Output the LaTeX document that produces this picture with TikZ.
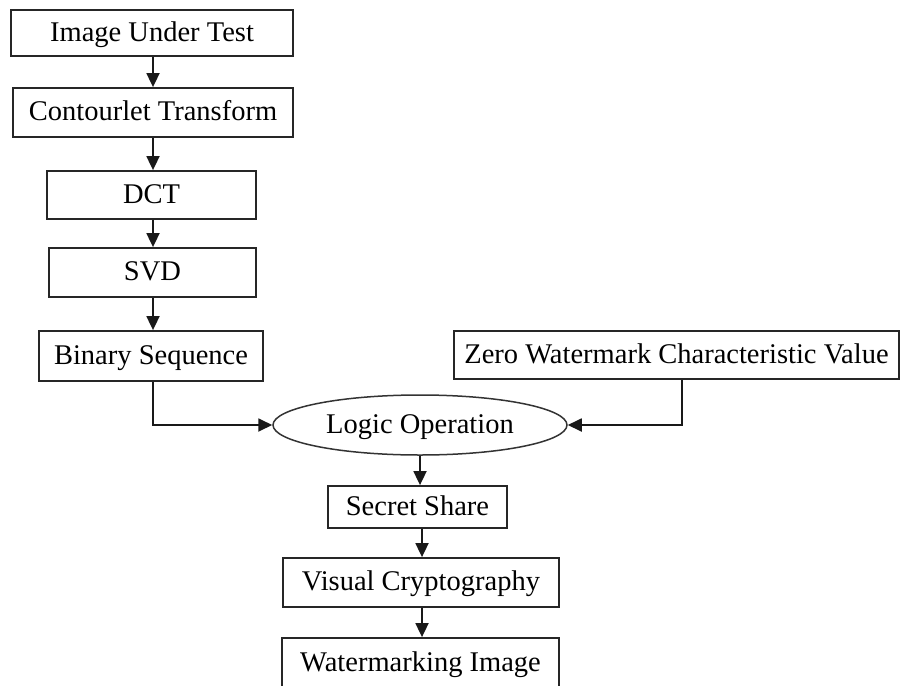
\documentclass[tikz,border=0pt]{standalone}
\usepackage{fontspec}
\setmainfont{Liberation Serif}
\usetikzlibrary{arrows.meta,shapes.geometric}
\tikzset{
  lbl/.style={font=\fontsize{28.5pt}{31pt}\selectfont, text height=16.5pt, text depth=-0.5pt, inner sep=0pt},
  stepbox/.style={lbl, draw=black!85, line width=1.8pt, rectangle, fill=white},
  oval/.style={lbl, draw=black!80, line width=1.5pt, ellipse, fill=white},
  arr/.style={draw=black!90, line width=1.8pt, -{Triangle[length=14pt,width=13pt]}}
}
\begin{document}
\begin{tikzpicture}[x=1pt,y=-1pt]
\useasboundingbox (0,0) rectangle (901,685);
\begin{scope}
\clip (0,0) rectangle (901,685);
\node[stepbox, minimum width=282pt, minimum height=46pt] (b1) at (152,33) {Image Under Test};
\node[stepbox, minimum width=280pt, minimum height=49pt] (b2) at (153,112.5) {Contourlet Transform};
\node[stepbox, minimum width=209pt, minimum height=48pt] (dct) at (151.5,195) {DCT};
\node[stepbox, minimum width=207pt, minimum height=49pt] (svd) at (152.5,272.5) {SVD};
\node[stepbox, minimum width=224pt, minimum height=50pt] (bin) at (151,356) {Binary Sequence};
\node[stepbox, minimum width=445pt, minimum height=48pt] (zero) at (676.5,355) {Zero Watermark Characteristic Value};
\node[oval, minimum width=294pt, minimum height=60pt] (ell) at (420,425) {Logic Operation};
\node[stepbox, minimum width=179pt, minimum height=42pt] (sec) at (417.5,507) {Secret Share};
\node[stepbox, minimum width=276pt, minimum height=49pt] (vis) at (421,582.5) {Visual Cryptography};
\node[stepbox, minimum width=277pt, minimum height=50pt] (wm) at (420.5,663) {Watermarking Image};
\coordinate (b1s) at ([xshift=1pt]b1.south);
\draw[arr] (b1s) -- (b1s |- b2.north);
\draw[arr] (b2.south) -- (b2.south |- dct.north);
\draw[arr] (b2.south |- dct.south) -- (b2.south |- svd.north);
\draw[arr] (b2.south |- svd.south) -- (b2.south |- bin.north);
\draw[arr] (b2.south |- bin.south) |- (ell.west);
\coordinate (zs) at ([xshift=5.5pt]zero.south);
\draw[arr] (zs) |- (ell.east);
\draw[arr] (ell.south) -- (ell.south |- sec.north);
\coordinate (ss) at ([xshift=4.5pt]sec.south);
\draw[arr] (ss) -- (ss |- vis.north);
\draw[arr] (ss |- vis.south) -- (ss |- wm.north);
\end{scope}
\end{tikzpicture}
\end{document}
